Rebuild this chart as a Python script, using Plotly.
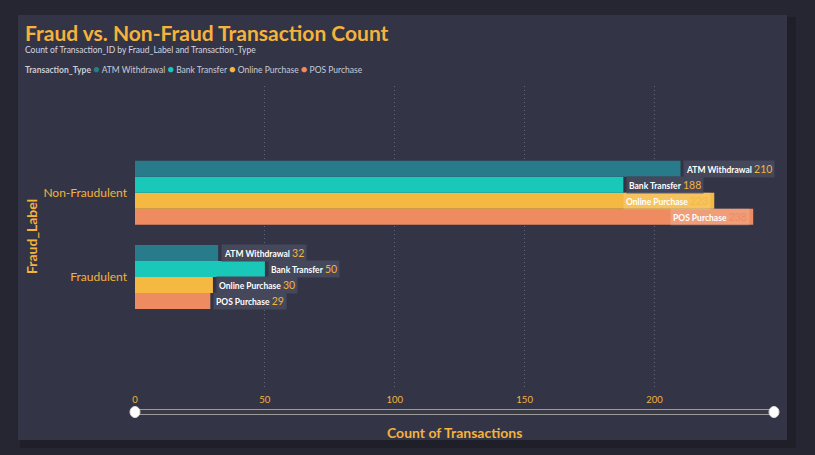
import plotly.graph_objects as go

# ---- data ----
categories = ["Non-Fraudulent", "Fraudulent"]
transaction_types = ["ATM Withdrawal", "Bank Transfer", "Online Purchase", "POS Purchase"]
non_fraud_counts = [210, 188, 223, 238]
fraud_counts = [32, 50, 30, 29]
x_ticks = [0, 50, 100, 150, 200]

colors = ["#277b8a", "#19c8b8", "#f5b841", "#ee8b60"]
ORANGE = "#f5b23c"
FONT = "Lato"

W, H = 815, 455
L, R, T, B = 135, 774, 86, 390
XMAX = 246


def px(xp):
    return (xp - L) / (R - L)


def py(yp):
    return (B - yp) / (B - T)


fig = go.Figure()

# bars (reverse order so ATM sits on top in each group)
for i in reversed(range(len(transaction_types))):
    fig.add_trace(go.Bar(
        y=categories,
        x=[non_fraud_counts[i], fraud_counts[i]],
        orientation="h",
        name=transaction_types[i],
        marker=dict(color=colors[i], line=dict(width=0)),
        showlegend=False,
        hoverinfo="x+name",
    ))

shapes = []
# card shadow + card
shapes.append(dict(type="rect", xref="paper", yref="paper", layer="below",
                   x0=px(20), x1=px(796), y0=py(448), y1=py(17),
                   fillcolor="#1e1f28", line=dict(width=0)))
shapes.append(dict(type="rect", xref="paper", yref="paper", layer="below",
                   x0=px(18), x1=px(787), y0=py(440), y1=py(15),
                   fillcolor="#333547", line=dict(width=0)))

# range slider look
SY = py(412)
shapes.append(dict(type="rect", xref="paper", yref="paper", ysizemode="pixel", yanchor=SY,
                   x0=0, x1=1, y0=-2.5, y1=2.5,
                   fillcolor="#3a3a44", line=dict(color="#9b9b9b", width=1)))
for xa in (0, 1):
    shapes.append(dict(type="circle", xref="paper", yref="paper",
                       xsizemode="pixel", ysizemode="pixel", xanchor=xa, yanchor=SY,
                       x0=-5, x1=5, y0=-5.5, y1=5.5,
                       fillcolor="#ffffff", line=dict(color="#dddddd", width=1)))

annotations = []
# title / subtitle / legend
annotations.append(dict(xref="paper", yref="paper", x=px(23), y=py(32), xanchor="left", yanchor="middle",
                        text="<b>Fraud vs. Non-Fraud Transaction Count</b>", showarrow=False,
                        font=dict(family=FONT, size=21, color=ORANGE)))
annotations.append(dict(xref="paper", yref="paper", x=px(23), y=py(50), xanchor="left", yanchor="middle",
                        text="Count of Transaction_ID by Fraud_Label and Transaction_Type", showarrow=False,
                        font=dict(family=FONT, size=8.5, color="#d4d6e0")))
legend_text = "<b>Transaction_Type</b> " + " ".join(
    f"<span style='color:{c};font-size:11px'>●</span> {n}" for n, c in zip(transaction_types, colors))
annotations.append(dict(xref="paper", yref="paper", x=px(23), y=py(69), xanchor="left", yanchor="middle",
                        text=legend_text, showarrow=False,
                        font=dict(family=FONT, size=8.5, color="#c9cbd6")))

# axis titles
annotations.append(dict(xref="paper", yref="paper", x=0.5, y=py(432), xanchor="center", yanchor="middle",
                        text="<b>Count of Transactions</b>", showarrow=False,
                        font=dict(family=FONT, size=14, color=ORANGE)))
annotations.append(dict(xref="paper", yref="paper", x=px(31), y=py(237), xanchor="center", yanchor="middle",
                        text="<b>Fraud_Label</b>", textangle=-90, showarrow=False,
                        font=dict(family=FONT, size=14, color=ORANGE)))

# data labels
shifts = [24, 8, -8, -24]
for cat, vals in zip(categories, [non_fraud_counts, fraud_counts]):
    for i, v in enumerate(vals):
        inside = v > 215
        vcol = colors[i] if inside else ORANGE
        annotations.append(dict(
            x=v, y=cat, xref="x", yref="y", yshift=shifts[i],
            xanchor="right" if inside else "left", xshift=-3 if inside else 3,
            yanchor="middle", showarrow=False,
            text=f"<b>{transaction_types[i]}</b> <span style='color:{vcol};font-size:10.5px'>{v}</span>",
            bgcolor="rgba(255,255,255,0.16)" if inside else "#45475a",
            borderpad=2,
            font=dict(family=FONT, size=8.5, color="#ffffff"),
        ))

fig.update_layout(
    width=W, height=H,
    margin=dict(l=L, r=W - R, t=T, b=H - B),
    paper_bgcolor="#252631",
    plot_bgcolor="rgba(0,0,0,0)",
    barmode="group",
    bargap=0.24,
    bargroupgap=0,
    shapes=shapes,
    annotations=annotations,
    showlegend=False,
    xaxis=dict(range=[0, XMAX], tickvals=x_ticks, showgrid=True, gridcolor="#64667b",
               griddash="1px,3px", gridwidth=1, zeroline=False, showline=False,
               tickfont=dict(family=FONT, size=9.5, color=ORANGE), ticks="", ticklabelstandoff=2,
               fixedrange=True),
    yaxis=dict(categoryorder="array", categoryarray=["Fraudulent", "Non-Fraudulent"],
               range=[-1.34, 2.266], showgrid=False, zeroline=False, showline=False,
               tickfont=dict(family=FONT, size=12, color=ORANGE), ticks="", ticklabelstandoff=7,
               fixedrange=True),
)

fig.write_html("out.html", config={"displayModeBar": False})
